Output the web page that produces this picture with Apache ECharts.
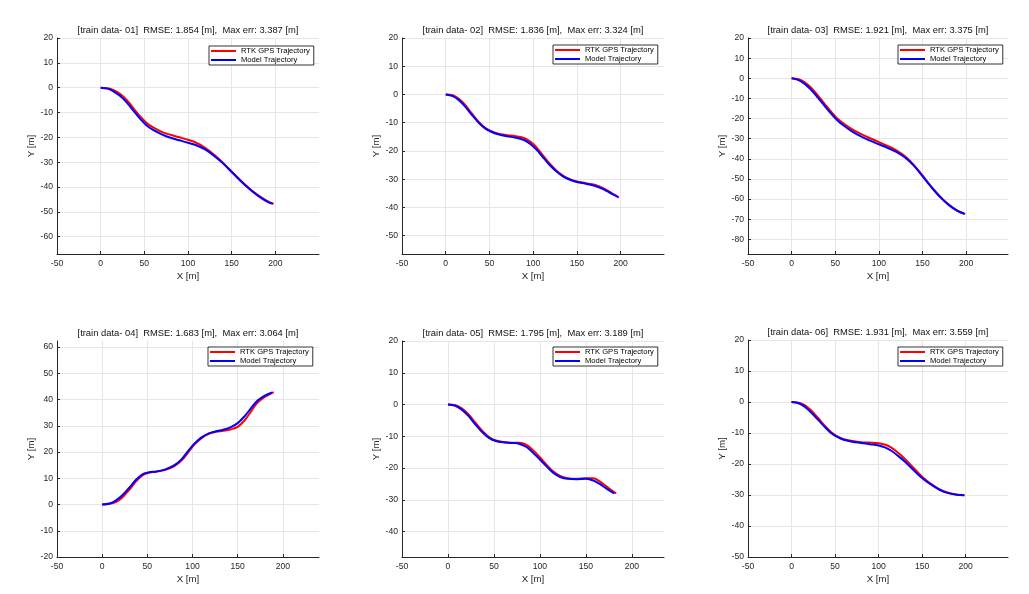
<!DOCTYPE html>
<html><head><meta charset="utf-8">
<script src="https://cdn.jsdelivr.net/npm/echarts@6/dist/echarts.min.js"></script>
<style>html,body{margin:0;padding:0;background:#fff}#c{width:1029px;height:594px}</style>
</head><body><div id="c"></div>
<script>
// ---------- data ----------
const seriesNames = ['RTK GPS Trajectory', 'Model Trajectory'];
const titles = [
  '[train data- 01]  RMSE: 1.854 [m],  Max err: 3.387 [m]',
  '[train data- 02]  RMSE: 1.836 [m],  Max err: 3.324 [m]',
  '[train data- 03]  RMSE: 1.921 [m],  Max err: 3.375 [m]',
  '[train data- 04]  RMSE: 1.683 [m],  Max err: 3.064 [m]',
  '[train data- 05]  RMSE: 1.795 [m],  Max err: 3.189 [m]',
  '[train data- 06]  RMSE: 1.931 [m],  Max err: 3.559 [m]'
];
const xTicks = [-50, 0, 50, 100, 150, 200];
const yTicks1 = [-60, -50, -40, -30, -20, -10, 0, 10, 20];
const yTicks2 = [-50, -40, -30, -20, -10, 0, 10, 20];
const yTicks3 = [-80, -70, -60, -50, -40, -30, -20, -10, 0, 10, 20];
const yTicks4 = [-20, -10, 0, 10, 20, 30, 40, 50, 60];
const yTicks5 = [-40, -30, -20, -10, 0, 10, 20];
const yTicks6 = [-50, -40, -30, -20, -10, 0, 10, 20];

const rtk01 = [[0,0],[8,-0.2],[15,-1],[22,-2.5],[30,-5],[38,-8.5],[45,-11.5],[52,-14],[60,-16],[70,-17.8],[80,-19],[90,-20],[100,-21],[110,-22.3],[120,-24.3],[130,-27],[140,-30.2],[150,-33.8],[160,-37.3],[170,-40.5],[180,-43.3],[190,-45.5],[198,-46.8]];
const model01 = [[0,0],[8,-0.4],[15,-1.6],[22,-3.3],[30,-6],[38,-9.5],[45,-12.5],[52,-15],[60,-17],[70,-18.8],[80,-20.2],[90,-21.2],[100,-22.2],[110,-23.3],[120,-25],[130,-27.5],[140,-30.5],[150,-34],[160,-37.5],[170,-40.7],[180,-43.5],[190,-45.8],[197,-46.8]];

const rtk02 = [[0,0],[8,-0.3],[15,-1.5],[22,-3.6],[30,-6.8],[38,-9.8],[45,-11.8],[52,-13],[60,-13.9],[70,-14.4],[80,-14.8],[90,-15.5],[97,-16.8],[104,-18.8],[110,-21.2],[118,-24.2],[126,-26.8],[134,-28.7],[142,-30],[150,-30.8],[160,-31.4],[170,-32],[180,-33.2],[190,-35],[198,-36.5]];
const model02 = [[0,0],[8,-0.6],[15,-2],[22,-4.2],[30,-7.3],[38,-10.1],[45,-12],[52,-13.2],[60,-14.1],[70,-14.8],[80,-15.3],[90,-16.2],[97,-17.6],[104,-19.6],[110,-21.8],[118,-24.7],[126,-27.1],[134,-29],[142,-30.2],[150,-31],[160,-31.6],[170,-32.3],[180,-33.5],[190,-35.2],[197,-36.3]];

const rtk03 = [[0,0],[8,-0.5],[15,-2],[22,-4.6],[30,-8.5],[38,-12.8],[45,-16.5],[52,-19.8],[60,-22.6],[70,-25.5],[80,-27.8],[90,-29.8],[100,-31.7],[110,-33.6],[120,-35.8],[130,-38.8],[140,-43],[150,-48.3],[160,-53.8],[170,-58.7],[180,-62.7],[190,-65.8],[199,-67.5]];
const model03 = [[0,0],[8,-0.9],[15,-2.8],[22,-5.6],[30,-9.6],[38,-13.8],[45,-17.4],[52,-20.7],[60,-23.6],[70,-26.6],[80,-29],[90,-31],[100,-32.8],[110,-34.6],[120,-36.6],[130,-39.4],[140,-43.4],[150,-48.6],[160,-54],[170,-58.9],[180,-62.9],[190,-65.9],[198,-67.3]];

const rtk04 = [[0,0],[8,0.2],[15,0.9],[22,2.6],[30,5.6],[38,9],[45,11.2],[52,12.1],[60,12.5],[70,13.2],[80,14.6],[88,16.8],[95,19.8],[102,22.8],[110,25.3],[118,26.9],[126,27.7],[134,28.1],[142,28.6],[150,29.6],[158,32.2],[165,35.6],[172,38.8],[180,41],[188,42.5],[190,42.8]];
const model04 = [[0,0],[8,0.4],[15,1.5],[22,3.4],[30,6.4],[38,9.6],[45,11.6],[52,12.3],[60,12.6],[70,13.4],[80,15],[88,17.3],[95,20.3],[102,23.2],[110,25.6],[118,27.1],[126,27.9],[134,28.5],[142,29.4],[150,31],[158,33.8],[165,36.8],[172,39.6],[180,41.5],[188,42.7]];

const rtk05 = [[0,0],[8,-0.2],[15,-1.2],[22,-3],[30,-5.8],[38,-8.5],[45,-10.3],[52,-11.3],[60,-11.8],[70,-12],[78,-12],[85,-12.6],[92,-14.2],[100,-16.6],[108,-19.2],[115,-21.2],[122,-22.5],[130,-23.2],[140,-23.4],[150,-23.2],[158,-23.2],[165,-24.2],[172,-25.7],[178,-27],[183,-28]];
const model05 = [[0,0],[8,-0.4],[15,-1.6],[22,-3.5],[30,-6.3],[38,-8.9],[45,-10.6],[52,-11.5],[60,-11.9],[70,-12.1],[78,-12.4],[85,-13.3],[92,-15],[100,-17.3],[108,-19.7],[115,-21.6],[122,-22.8],[130,-23.4],[140,-23.5],[150,-23.4],[158,-23.9],[165,-25],[172,-26.4],[178,-27.5],[181,-28]];

const rtk06 = [[0,0],[8,-0.2],[15,-1],[22,-2.6],[30,-5],[38,-7.6],[45,-9.6],[52,-11],[60,-12],[70,-12.6],[80,-13],[90,-13.1],[100,-13.3],[108,-13.8],[115,-14.8],[122,-16.3],[130,-18.3],[138,-20.6],[145,-22.7],[152,-24.6],[160,-26.4],[170,-28.2],[180,-29.3],[190,-29.9],[199,-30.1]];
const model06 = [[0,0],[8,-0.4],[15,-1.5],[22,-3.2],[30,-5.6],[38,-8],[45,-9.9],[52,-11.2],[60,-12.2],[70,-12.8],[80,-13.2],[90,-13.6],[100,-14],[108,-14.7],[115,-15.8],[122,-17.3],[130,-19.2],[138,-21.4],[145,-23.3],[152,-25],[160,-26.6],[170,-28.3],[180,-29.4],[190,-29.9],[198,-30.1]];

// ---------- layout ----------
const rtkList = [rtk01, rtk02, rtk03, rtk04, rtk05, rtk06];
const modelList = [model01, model02, model03, model04, model05, model06];
const yTickList = [yTicks1, yTicks2, yTicks3, yTicks4, yTicks5, yTicks6];
const xExtents = [[-50, 250], [-50, 249.5], [-50, 248], [-50, 240], [-50, 235], [-50, 248.6]];
const yExtents = [[-67, 20], [-56.5, 20], [-87.3, 20], [-20, 62.3], [-48, 20], [-50, 20]];
const grids = [
  {left: 57, top: 38, width: 262, height: 216},
  {left: 402, top: 38, width: 262, height: 216},
  {left: 748, top: 38, width: 260, height: 216},
  {left: 57, top: 341, width: 262, height: 216},
  {left: 402, top: 341, width: 262, height: 216},
  {left: 748, top: 340, width: 260, height: 217}
];
const legendPos = [
  {left: 209, top: 46}, {left: 553, top: 45}, {left: 898, top: 45},
  {left: 208, top: 347}, {left: 553, top: 347}, {left: 898, top: 347}
];

const FONT = 'Liberation Sans, Arial, sans-serif';
const AX = '#262626';
const GRIDC = '#e6e6e6';

const option = {
  backgroundColor: '#fff',
  animation: false,
  title: [], grid: [], xAxis: [], yAxis: [], legend: [], series: []
};

for (let i = 0; i < 6; i++) {
  const g = grids[i];
  option.grid.push({left: g.left, top: g.top, width: g.width, height: g.height, containLabel: false});
  option.title.push({
    text: titles[i], left: g.left + g.width / 2, top: g.top - 12, textAlign: 'center', padding: 0,
    textStyle: {fontSize: 9.4, fontWeight: 'normal', color: '#111', fontFamily: FONT}
  });
  option.xAxis.push({
    gridIndex: i, type: 'value', min: xExtents[i][0], max: xExtents[i][1],
    name: 'X [m]', nameLocation: 'middle', nameGap: 17,
    nameTextStyle: {fontSize: 9.7, color: AX, fontFamily: FONT},
    axisLine: {show: true, onZero: false, lineStyle: {color: AX, width: 1}},
    axisTick: {show: true, inside: true, length: 3, customValues: xTicks, lineStyle: {color: AX}},
    axisLabel: {customValues: xTicks, fontSize: 8.6, color: AX, margin: 5, fontFamily: FONT},
    splitLine: {show: true, lineStyle: {color: GRIDC, width: 1}}
  });
  option.yAxis.push({
    gridIndex: i, type: 'value', min: yExtents[i][0], max: yExtents[i][1],
    name: 'Y [m]', nameLocation: 'middle', nameGap: 20, nameRotate: 90,
    nameTextStyle: {fontSize: 9.7, color: AX, fontFamily: FONT},
    axisLine: {show: true, onZero: false, lineStyle: {color: AX, width: 1}},
    axisTick: {show: true, inside: true, length: 3, customValues: yTickList[i], lineStyle: {color: AX}},
    axisLabel: {customValues: yTickList[i], fontSize: 8.6, color: AX, margin: 4, fontFamily: FONT},
    splitLine: {show: true, lineStyle: {color: GRIDC, width: 1}}
  });
  option.legend.push({
    orient: 'vertical', left: legendPos[i].left, top: legendPos[i].top,
    padding: [1, 4, 1, 2], itemGap: 1, itemWidth: 25, itemHeight: 2, icon: 'rect',
    backgroundColor: '#fff', borderColor: '#000', borderWidth: 0.8,
    textStyle: {fontSize: 7.6, color: '#000', fontFamily: FONT},
    selectedMode: false,
    data: seriesNames
  });
  option.series.push({
    name: seriesNames[0], type: 'line', xAxisIndex: i, yAxisIndex: i,
    data: rtkList[i], symbol: 'none', smooth: 0.35, color: '#ff0000',
    lineStyle: {width: 2, color: '#ff0000'}, z: 2
  });
  option.series.push({
    name: seriesNames[1], type: 'line', xAxisIndex: i, yAxisIndex: i,
    data: modelList[i], symbol: 'none', smooth: 0.35, color: '#0000ff',
    lineStyle: {width: 2, color: '#0000ff'}, z: 3
  });
}

const chart = echarts.init(document.getElementById('c'), null, {renderer: 'canvas'});
chart.setOption(option);
</script>
</body></html>
